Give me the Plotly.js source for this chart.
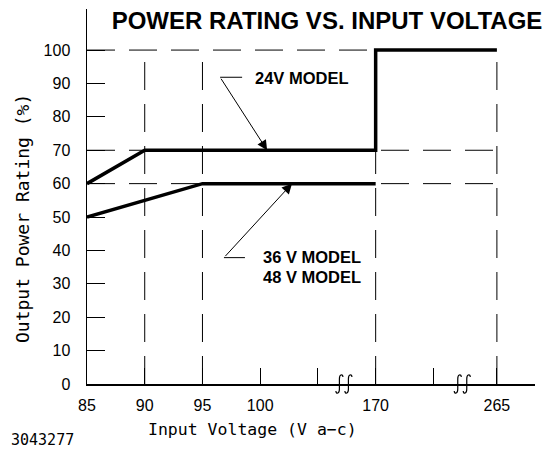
<!DOCTYPE html>
<html>
<head>
<meta charset="utf-8">
<script src="https://cdn.plot.ly/plotly-3.0.1.min.js"></script>
<style>html,body{margin:0;padding:0;background:#fff;}#chart{width:547px;height:450px;}</style>
</head>
<body>
<div id="chart"></div>
<script>
// ---- data ----
const xTickVolts = [85, 90, 95, 100, null, 170, null, 265];
const xTickLabels = ['85', '90', '95', '100', '', '170', '', '265'];
const yTickValues = [0, 10, 20, 30, 40, 50, 60, 70, 80, 90, 100];

const volts24 = [85, 90, 170, 170, 265];
const power24 = [60, 70, 70, 100, 100];
const volts3648 = [85, 90, 95, 170];
const power3648 = [50, 55, 60, 60];

const gridPowers = [60, 70, 100];
const gridVolts = [90, 95, 170, 265];

// broken axis: position of each tick slot on the drawn axis
const slotPos = [0, 1, 2, 3, 4, 5, 6, 7.1];
function xPos(v) { return slotPos[xTickVolts.indexOf(v)]; }

const black = '#000';
const dash = '28px,14px';

const traces = [
  {x: volts24.map(xPos), y: power24, mode: 'lines', name: '24V MODEL',
   line: {color: black, width: 3.5}, hoverinfo: 'skip'},
  {x: volts3648.map(xPos), y: power3648, mode: 'lines', name: '36 V / 48 V MODEL',
   line: {color: black, width: 3.5}, hoverinfo: 'skip'}
];

const shapes = [];
gridPowers.forEach(p => shapes.push({type: 'line', layer: 'below', xref: 'x', yref: 'y',
  x0: 0, x1: xPos(265), y0: p, y1: p, line: {color: black, width: 1, dash: dash}}));
gridVolts.forEach(v => shapes.push({type: 'line', layer: 'below', xref: 'x', yref: 'y',
  x0: xPos(v), x1: xPos(v), y0: 0, y1: 100, line: {color: black, width: 1, dash: dash}}));

// axis break marks (two integral-like strokes crossing the axis line)
const squiggle = 'M-8,-7 Q-8,-9.5 -6,-9 Q-4.5,-8.5 -4.5,-5 L-4.5,5 Q-4.5,8.5 -3,9 Q-1,9.5 -1,7 ' +
                 'M1,-7 Q1,-9.5 3,-9 Q4.5,-8.5 4.5,-5 L4.5,5 Q4.5,8.5 6,9 Q8,9.5 8,7';
[4.45, 6.5].forEach(xa => shapes.push({type: 'path', xref: 'x', yref: 'paper',
  xsizemode: 'pixel', ysizemode: 'pixel', xanchor: xa, yanchor: 0,
  path: squiggle, line: {color: black, width: 1.2}}));

// leader lines for the callouts
const tip24 = {x: 3.12, y: 70, ax: -47, ay: -73};
const tip36 = {x: 3.55, y: 60, ax: -68, ay: 74};
shapes.push({type: 'line', xref: 'x', yref: 'y', xsizemode: 'pixel', ysizemode: 'pixel',
  xanchor: tip24.x, yanchor: tip24.y, x0: tip24.ax, x1: tip24.ax + 22, y0: -tip24.ay, y1: -tip24.ay,
  line: {color: black, width: 1}});
shapes.push({type: 'line', xref: 'x', yref: 'y', xsizemode: 'pixel', ysizemode: 'pixel',
  xanchor: tip36.x, yanchor: tip36.y, x0: tip36.ax, x1: tip36.ax + 21, y0: -tip36.ay, y1: -tip36.ay,
  line: {color: black, width: 1}});

const boldFont = {family: 'Liberation Sans, Arial, sans-serif', size: 16.5, color: black, weight: 700};
const monoFont = {family: 'DejaVu Sans Mono, monospace', size: 16.5, color: black};

const L = 87, R = 12, T = 9, B = 66, W = 547, H = 450;
const px2paperX = p => (p - L) / (W - L - R);
const px2paperY = p => (H - B - p) / (H - T - B);

const annotations = [
  {x: tip24.x, y: tip24.y, ax: tip24.ax, ay: tip24.ay, text: '', showarrow: true,
   arrowhead: 2, arrowsize: 2, arrowwidth: 1, arrowcolor: black, standoff: 0},
  {x: tip36.x, y: tip36.y, ax: tip36.ax, ay: tip36.ay, text: '', showarrow: true,
   arrowhead: 2, arrowsize: 2, arrowwidth: 1, arrowcolor: black, standoff: 0},
  {x: 2.87, y: 91.6, xref: 'x', yref: 'y', text: '24V MODEL', showarrow: false,
   xanchor: 'left', yanchor: 'middle', font: boldFont},
  {x: 3.02, y: 38.0, xref: 'x', yref: 'y', text: '36 V MODEL', showarrow: false,
   xanchor: 'left', yanchor: 'middle', font: boldFont},
  {x: 3.02, y: 32.0, xref: 'x', yref: 'y', text: '48 V MODEL', showarrow: false,
   xanchor: 'left', yanchor: 'middle', font: boldFont},
  {x: px2paperX(252), y: px2paperY(429), xref: 'paper', yref: 'paper', text: 'Input Voltage (V a\u2212c)',
   showarrow: false, xanchor: 'center', yanchor: 'middle', font: monoFont},
  {x: px2paperX(22), y: px2paperY(219), xref: 'paper', yref: 'paper', text: 'Output Power Rating (%)',
   textangle: -90, showarrow: false, xanchor: 'center', yanchor: 'middle',
   font: {family: 'DejaVu Sans Mono, monospace', size: 18, color: black}},
  {x: px2paperX(42), y: px2paperY(440), xref: 'paper', yref: 'paper', text: '3043277',
   showarrow: false, xanchor: 'center', yanchor: 'middle',
   font: {family: 'DejaVu Sans Mono, monospace', size: 15, color: black}}
];

const layout = {
  width: W, height: H,
  margin: {l: L, r: R, t: T, b: B, pad: 0},
  paper_bgcolor: '#fff', plot_bgcolor: '#fff',
  showlegend: false,
  title: {text: 'POWER RATING VS. INPUT VOLTAGE', x: 327 / W, xref: 'container', xanchor: 'center',
          y: 1 - 21 / H, yref: 'container', yanchor: 'middle',
          font: {family: 'Liberation Sans, Arial, sans-serif', size: 24, color: black, weight: 700}},
  xaxis: {range: [0, 7.76], showline: true, linecolor: black, linewidth: 1.5,
          tickmode: 'array', tickvals: slotPos, ticktext: xTickLabels,
          ticks: 'inside', ticklen: 16, tickwidth: 1, tickcolor: black,
          ticklabelstandoff: 6,
          tickfont: {family: 'Liberation Sans, Arial, sans-serif', size: 16, color: black},
          showgrid: false, zeroline: false, fixedrange: true},
  yaxis: {range: [0, 112.3], showline: true, linecolor: black, linewidth: 1.5,
          tickmode: 'array', tickvals: yTickValues,
          ticks: 'inside', ticklen: 18, tickwidth: 1, tickcolor: black,
          ticklabelstandoff: 12,
          tickfont: {family: 'Liberation Sans, Arial, sans-serif', size: 16, color: black},
          showgrid: false, zeroline: false, fixedrange: true},
  shapes: shapes,
  annotations: annotations
};

Plotly.newPlot('chart', traces, layout, {staticPlot: true, displayModeBar: false});
</script>
</body>
</html>
